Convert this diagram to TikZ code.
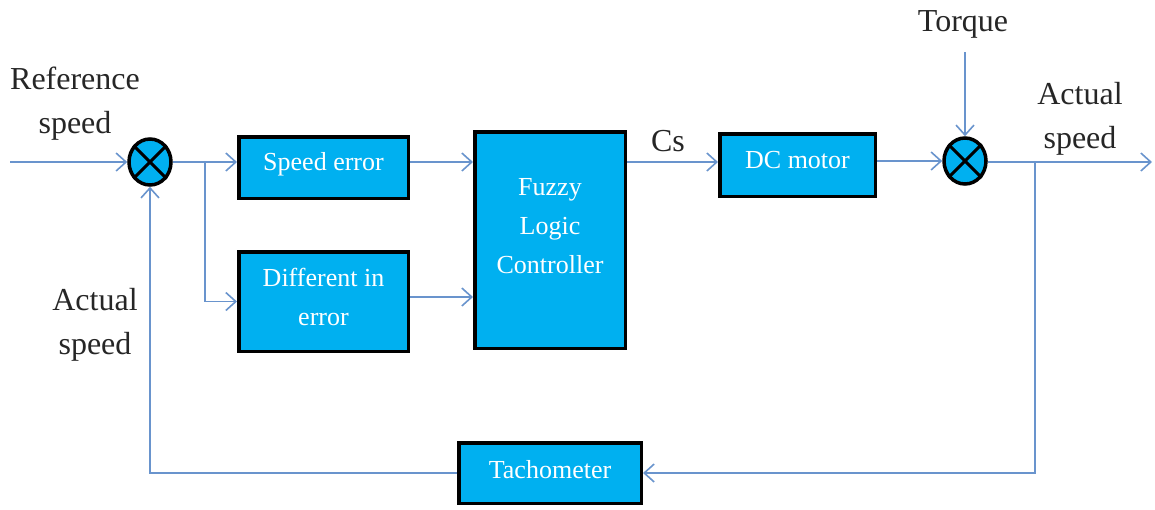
\documentclass[tikz,border=0pt]{standalone}
\usepackage{fontspec}
\setmainfont{Liberation Serif}
\usetikzlibrary{arrows.meta,shapes.geometric,calc}
\definecolor{boxfill}{RGB}{0,176,240}
\definecolor{wire}{RGB}{105,148,205}
\tikzset{
  blk/.style={draw=black,line width=3.5pt,fill=boxfill,inner sep=0pt},
  blktext/.style={text=white,font=\fontsize{26}{39}\selectfont,align=center,inner sep=0pt},
  lbl/.style={text=black!85,font=\fontsize{32}{44}\selectfont,align=center,inner sep=0pt},
  sumj/.style={ellipse,draw=black,line width=3.5pt,fill=boxfill,minimum width=42pt,minimum height=46pt,inner sep=0pt},
  wirel/.style={draw=wire,line width=1.6pt},
  arr/.style={wirel,-{Straight Barb[length=10pt,width=18pt,line width=1.6pt]}},
}
\begin{document}
\begin{tikzpicture}[x=1pt,y=-1pt]
\useasboundingbox (0,0) rectangle (1155,509);
% blocks
\node[blk,minimum width=169.5pt,minimum height=61.5pt] (se) at (323.5,167.5) {};
\node[blktext] (set) at (323.5,164) {Speed error};
\node[blk,minimum width=169.5pt,minimum height=99.5pt] (de) at (323.5,301.5) {};
\node[blktext] (det) at (323.5,297) {Different in\\error};
\node[blk,minimum width=150.5pt,minimum height=216.5pt] (flc) at (550,240) {};
\node[blktext] (flct) at (550,226) {Fuzzy\\Logic\\Controller};
\node[blk,minimum width=155.5pt,minimum height=62.5pt] (dc) at (797.5,165) {};
\node[blktext] (dct) at (797.5,160) {DC motor};
\node[blk,minimum width=182.5pt,minimum height=60.5pt] (tach) at (550,473) {};
\node[blktext] (tacht) at (550,470) {Tachometer};
% summing junctions
\node[sumj] (s1) at (150,162) {};
\draw[line width=3pt] (s1.45) -- (s1.225) (s1.135) -- (s1.315);
\node[sumj] (s2) at (965,161) {};
\draw[line width=3pt] (s2.45) -- (s2.225) (s2.135) -- (s2.315);
% labels
\node[lbl] (refl) at (75,104) {Reference\\speed};
\node[lbl] (actl) at (95,325) {Actual\\speed};
\node[lbl] (actr) at (1080,119) {Actual\\speed};
\node[lbl] (torl) at (963,24) {Torque};
\node[lbl] (csl) at (668,141) {Cs};
% coordinates
\coordinate (in) at (10,162);
\coordinate (out) at (1152,162);
\coordinate (tq) at (965,52);
\coordinate (b1) at (205,162);
\coordinate (b2) at (1035,162);
% connectors
\draw[arr] (in) -- (s1.west);
\draw[arr] (s1.east) -- (s1.east -| se.west);
\draw[arr] (b1) |- (de.west);
\draw[arr] (se.east |- s1.east) -- (flc.west |- s1.east);
\draw[arr] (de.east |- det) -- (flc.west |- det);
\draw[arr] (flc.east |- s1.east) -- (dc.west |- s1.east);
\draw[arr] (dc.east |- s2.west) -- (s2.west);
\draw[arr] (tq) -- (s2.north);
\draw[arr] (s2.east |- out) -- (out);
\draw[arr] (b2) |- (tach.east);
\draw[arr] (tach.west) -| (s1.south);
\end{tikzpicture}
\end{document}
